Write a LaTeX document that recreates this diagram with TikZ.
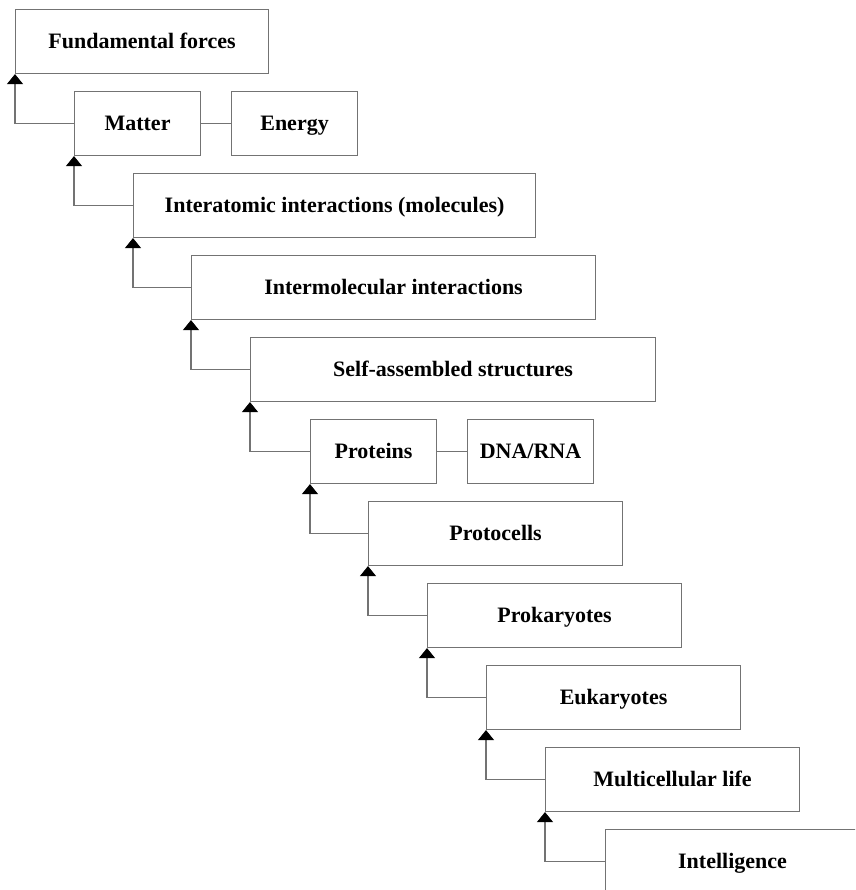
\documentclass[tikz,border=0pt]{standalone}
\usepackage{fontspec}
\setmainfont{Liberation Serif}
\usetikzlibrary{arrows.meta}
\tikzset{
	box/.style={draw=black!55, line width=1.1pt, rectangle, anchor=north west,
		minimum height=64pt, inner sep=0pt, text height=14.5pt, text depth=0pt,
		font=\fontsize{22}{26}\selectfont\bfseries},
	link/.style={draw=black!55, line width=1.1pt,
		-{Triangle[width=16pt,length=10pt,black]}},
	pair/.style={draw=black!55, line width=1.1pt}
}
\newcommand{\linkup}[2] % lower box, upper box
{
	% from the left side of the lower box up to the corner of the upper one
	\draw[link] (#1.west) -| (#2.south west);
}

\begin{document}
\begin{tikzpicture}[x=1pt, y=-1pt]
	% page 855 x 890, boxes step 59 right and 82 down
	\useasboundingbox (0,0) rectangle (855,890);
	\clip (0,0) rectangle (855,890);

	\node[box, minimum width=253pt] (forces) at (15,9) {Fundamental forces};
	\node[box, minimum width=126pt] (matter) at (74,91) {Matter};
	\node[box, minimum width=126pt] (energy) at (231,91) {Energy};
	\node[box, minimum width=402pt] (atomic) at (133,173) {Interatomic interactions (molecules)};
	\node[box, minimum width=404pt] (molecular) at (191,255) {Intermolecular interactions};
	\node[box, minimum width=405pt] (assembled) at (250,337) {Self-assembled structures};
	\node[box, minimum width=126pt] (proteins) at (310,419) {Proteins};
	\node[box, minimum width=126pt] (nucleic) at (467,419) {DNA/RNA};
	\node[box, minimum width=254pt] (protocells) at (368,501) {Protocells};
	\node[box, minimum width=254pt] (prokaryotes) at (427,583) {Prokaryotes};
	\node[box, minimum width=254pt] (eukaryotes) at (486,665) {Eukaryotes};
	\node[box, minimum width=254pt] (multicell) at (545,747) {Multicellular life};
	\node[box, minimum width=254pt] (intelligence) at (605,829) {Intelligence};

	% side links
	\draw[pair] (matter) -- (energy);
	\draw[pair] (proteins) -- (nucleic);

	% chain
	\linkup{matter}{forces};
	\linkup{atomic}{matter};
	\linkup{molecular}{atomic};
	\linkup{assembled}{molecular};
	\linkup{proteins}{assembled};
	\linkup{protocells}{proteins};
	\linkup{prokaryotes}{protocells};
	\linkup{eukaryotes}{prokaryotes};
	\linkup{multicell}{eukaryotes};
	\linkup{intelligence}{multicell};

\end{tikzpicture}
\end{document}
